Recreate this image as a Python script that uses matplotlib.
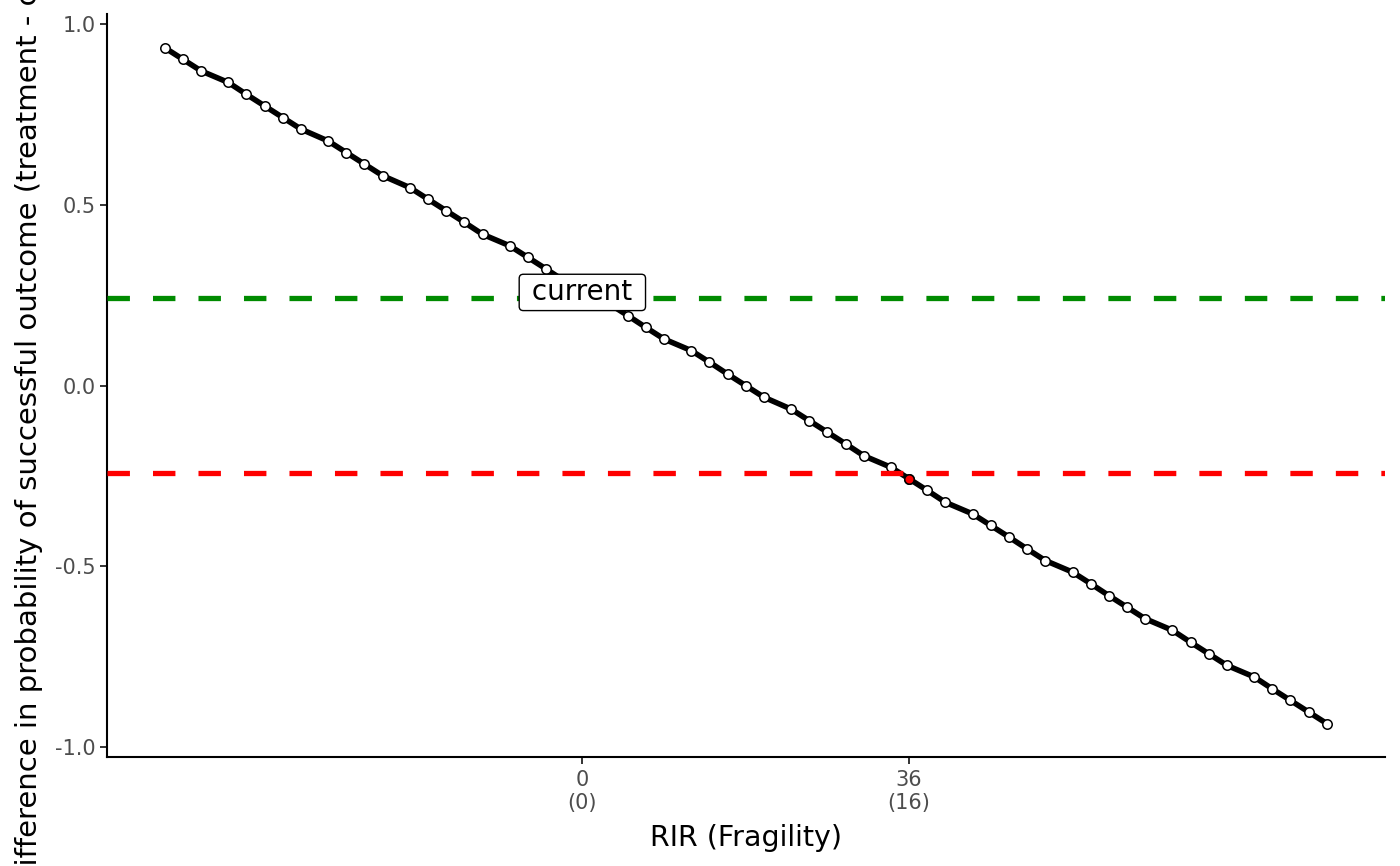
import matplotlib
matplotlib.use('Agg')
import matplotlib.pyplot as plt

plt.rcParams['axes.unicode_minus'] = False

# RIR value of each point (x) and treatment - control difference (y)
rir = [-46, -44, -42, -39, -37, -35, -33, -31, -28, -26, -24, -22, -19, -17, -15,
       -13, -11, -8, -6, -4, -2, 0, 3, 5, 7, 9, 12, 14, 16, 18, 20, 23, 25, 27,
       29, 31, 34, 36, 38, 40, 43, 45, 47, 49, 51, 54, 56, 58, 60, 62, 65, 67,
       69, 71, 74, 76, 78, 80, 82]
diff = [0.935, 0.903, 0.871, 0.839, 0.806, 0.774, 0.742, 0.710, 0.677, 0.645,
        0.613, 0.581, 0.548, 0.516, 0.484, 0.452, 0.419, 0.387, 0.355, 0.323,
        0.290, 0.258, 0.226, 0.194, 0.161, 0.129, 0.097, 0.065, 0.032, 0.000,
        -0.032, -0.065, -0.097, -0.129, -0.161, -0.194, -0.226, -0.258, -0.290,
        -0.323, -0.355, -0.387, -0.419, -0.452, -0.484, -0.516, -0.548, -0.581,
        -0.613, -0.645, -0.677, -0.710, -0.742, -0.774, -0.806, -0.839, -0.871,
        -0.903, -0.935]

current_x, current_y = 0, 0.258
flip_x, flip_y = 36, -0.258
upper_thr = 0.242
lower_thr = -0.242

x_ticks = [0, 36]
x_tick_labels = ['0\n(0)', '36\n(16)']
y_ticks = [-1.0, -0.5, 0.0, 0.5, 1.0]
y_tick_labels = ['-1.0', '-0.5', '0.0', '0.5', '1.0']

W, H = 1400, 866
fig = plt.figure(figsize=(W / 100, H / 100), dpi=100)
ax = fig.add_axes([106.7 / W, (H - 757.3) / H, (1384.8 - 106.7) / W, (757.3 - 14) / H])

ax.plot(rir, diff, color='black', lw=4, zorder=2, solid_capstyle='round')
ax.plot(rir, diff, linestyle='none', marker='o', ms=6.8, mfc='white',
        mec='black', mew=1.1, zorder=3)

ax.axhline(upper_thr, color='#008B00', lw=3.8, linestyle=(0, (4.25, 4.37)), zorder=4)
ax.axhline(lower_thr, color='#FF0000', lw=3.8, linestyle=(0, (4.25, 4.37)), zorder=4)

ax.plot([flip_x], [flip_y], linestyle='none', marker='o', ms=6.8, mfc='#FF0000',
        mec='black', mew=1.1, zorder=5)

ax.text(current_x, current_y, ' current ', fontsize=20, ha='center', va='center',
        zorder=6, bbox=dict(boxstyle='round,pad=0.15,rounding_size=0.15',
                            fc='white', ec='black', lw=1.0))

xmin, xmax = min(rir), max(rir)
ymin, ymax = min(diff), max(diff)
ax.set_xlim(xmin - 0.05 * (xmax - xmin), xmax + 0.05 * (xmax - xmin))
ax.set_ylim(ymin - 0.05 * (ymax - ymin), ymax + 0.05 * (ymax - ymin))

ax.set_xticks(x_ticks)
ax.set_xticklabels(x_tick_labels)
ax.set_yticks(y_ticks)
ax.set_yticklabels(y_tick_labels)
ax.tick_params(axis='both', labelsize=15, labelcolor='#4D4D4D', color='#333333',
               length=5, width=1.4)
ax.tick_params(axis='x', pad=4)
ax.tick_params(axis='y', pad=3)

for side in ['top', 'right']:
    ax.spines[side].set_visible(False)
for side in ['left', 'bottom']:
    ax.spines[side].set_linewidth(1.5)
    ax.spines[side].set_color('black')

fig.text(746 / W, (H - 846) / H, 'RIR (Fragility)', fontsize=20.5,
         ha='center', va='baseline')
# the y title is longer than the figure is tall, so both ends get cut off
fig.text(37 / W, (H - 390) / H,
         'Difference in probability of successful outcome (treatment - control)',
         fontsize=21, rotation=90, rotation_mode='anchor',
         ha='center', va='baseline')

fig.savefig('out.png', dpi=100)
